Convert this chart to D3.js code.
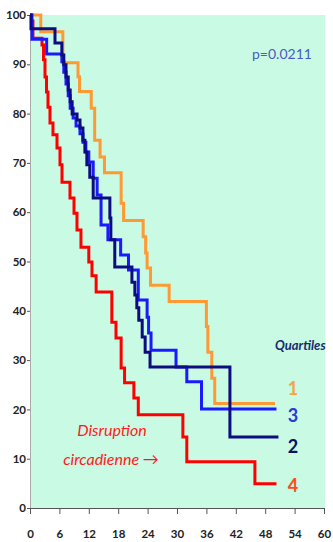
<!DOCTYPE html>
<html>
<head>
<meta charset="utf-8">
<script src="https://cdnjs.cloudflare.com/ajax/libs/d3/7.8.5/d3.min.js"></script>
<style>
  body { margin: 0; background: #fff; }
  svg { display: block; }
</style>
</head>
<body>
<div id="chart"></div>
<script>
// months at each drop, survival (%) after the drop
var q1Times = [2.2, 6.7, 9.8, 10.1, 12.5, 13.2, 14.3, 15.2, 18.6, 19.1, 23.1, 23.6, 23.9, 24.6, 28.4, 36.0, 36.3, 37.1, 37.7];
var q1Surv  = [96.6, 90.3, 87.5, 84.5, 81.1, 74.6, 71.2, 68.0, 61.8, 58.3, 55.0, 51.7, 48.7, 45.2, 41.9, 36.8, 31.6, 26.3, 21.2];
var q1End = 50;

var q2Times = [0.2, 5.1, 6.5, 6.9, 7.35, 7.8, 8.2, 8.6, 9.6, 10.2, 10.8, 11.2, 11.6, 12.2, 12.9, 16.3, 16.5, 17.3, 20.8, 21.4, 21.8, 22.2, 22.9, 23.5, 24.5, 40.8];
var q2Surv  = [97.2, 94.3, 91.9, 89.9, 87.4, 84.8, 82.4, 79.9, 78.7, 77.1, 74.6, 72.2, 69.6, 67.1, 62.9, 58.8, 54.4, 48.9, 45.8, 43.2, 40.6, 38.1, 34.7, 31.6, 28.6, 14.4];
var q2End = 50.7;

var q3Times = [0.4, 3.4, 6.5, 6.9, 7.35, 7.8, 8.2, 8.8, 9.4, 10.2, 10.8, 11.4, 12.0, 12.9, 13.7, 14.5, 15.9, 18.5, 20.1, 22.1, 23.9, 24.2, 24.7, 29.8, 32.0, 35.0];
var q3Surv  = [95.1, 92.1, 90.5, 88.4, 86.0, 83.6, 81.1, 79.1, 77.5, 75.9, 74.2, 72.2, 70.2, 66.9, 63.5, 57.4, 54.4, 51.3, 48.3, 42.2, 38.7, 35.5, 32.0, 28.6, 25.6, 20.1];
var q3End = 50.3;

var q4Times = [0.3, 0.6, 2.45, 2.76, 3.06, 3.37, 3.67, 4.08, 4.69, 5.51, 6.12, 6.53, 8.16, 8.98, 9.59, 10.4, 12.0, 12.65, 13.5, 16.7, 17.55, 18.6, 19.3, 21.2, 22.1, 31.2, 32.0, 45.9];
var q4Surv  = [98.8, 95.3, 93.9, 90.9, 87.4, 84.4, 81.3, 78.1, 75.7, 73.0, 69.6, 66.1, 62.9, 59.8, 56.4, 52.9, 49.9, 47.1, 43.8, 37.7, 34.5, 28.4, 25.4, 22.3, 18.9, 14.4, 9.4, 4.9];
var q4End = 50.3;

var xTicks = [0, 6, 12, 18, 24, 30, 36, 42, 48, 54, 60];
var yTicks = [0, 10, 20, 30, 40, 50, 60, 70, 80, 90, 100];

var w = 333, h = 542;
var svg = d3.select("#chart").append("svg")
    .attr("width", w)
    .attr("height", h);

var x = d3.scaleLinear().domain([0, 60]).range([30, 324]);
var y = d3.scaleLinear().domain([0, 100]).range([508, 15]);

// plot background
svg.append("rect")
    .attr("x", x(0))
    .attr("y", y(100))
    .attr("width", 325 - x(0))
    .attr("height", y(0) - y(100))
    .attr("fill", "#c8fae4");

// axes
var yAxis = svg.append("g")
    .attr("transform", "translate(" + x(0) + ",0)")
    .call(d3.axisLeft(y).tickValues(yTicks).tickSize(3).tickPadding(1));
var xAxis = svg.append("g")
    .attr("transform", "translate(0," + y(0) + ")")
    .call(d3.axisBottom(x).tickValues(xTicks).tickSize(6).tickPadding(16));

yAxis.select(".domain").attr("stroke", "#aaa");
xAxis.select(".domain").attr("stroke", "#555");
svg.selectAll(".tick line").attr("stroke", "#555");
svg.selectAll(".tick text")
    .attr("font-family", "Lato, sans-serif")
    .attr("font-weight", "bold")
    .attr("font-size", "11.5px")
    .attr("fill", "#222");

var line = d3.line()
    .x(function(d) { return x(d[0]); })
    .y(function(d) { return y(d[1]); })
    .curve(d3.curveStepAfter);

function pts(times, surv, end) {
  var p = [[0, 100]];
  times.forEach(function(t, i) { p.push([t, surv[i]]); });
  p.push([end, surv[surv.length - 1]]);
  return p;
}

var series = [
  { p: pts(q4Times, q4Surv, q4End), c: "#ff0000" },
  { p: pts(q1Times, q1Surv, q1End), c: "#ff9933" },
  { p: pts(q3Times, q3Surv, q3End), c: "#1a1aff" },
  { p: pts(q2Times, q2Surv, q2End), c: "#0d0d80" }
];

svg.selectAll("path.km")
    .data(series)
    .enter()
    .append("path")
      .attr("class", "km")
      .attr("d", function(d) { return line(d.p); })
      .attr("fill", "none")
      .attr("stroke", function(d) { return d.c; })
      .attr("stroke-width", 3);

// texts
svg.append("text")
    .attr("x", 252).attr("y", 59)
    .attr("font-family", "Lato, sans-serif")
    .attr("font-size", "14px")
    .attr("fill", "#4a5cc0")
    .text("p=0.0211");

svg.append("text")
    .attr("x", 275).attr("y", 350)
    .attr("font-family", "Lato, sans-serif")
    .attr("font-size", "13px")
    .attr("font-weight", "bold")
    .attr("font-style", "italic")
    .attr("fill", "#1a2a6e")
    .text("Quartiles");

var legend = [
  { t: "1", y: 395, c: "#f7a340" },
  { t: "3", y: 422, c: "#2a3ad8" },
  { t: "2", y: 453, c: "#101060" },
  { t: "4", y: 492, c: "#ff4a1a" }
];
svg.selectAll("text.lg")
    .data(legend)
    .enter()
    .append("text")
      .attr("class", "lg")
      .attr("x", 293).attr("y", function(d) { return d.y; })
      .attr("text-anchor", "middle")
      .attr("font-family", "Lato, sans-serif")
      .attr("font-size", "18px")
      .attr("font-weight", "bold")
      .attr("fill", function(d) { return d.c; })
      .text(function(d) { return d.t; });

svg.append("text")
    .attr("x", 112).attr("y", 436)
    .attr("text-anchor", "middle")
    .attr("font-family", "Lato, sans-serif")
    .attr("font-size", "16px")
    .attr("font-style", "italic")
    .attr("fill", "#ff1a1a")
    .text("Disruption");
svg.append("text")
    .attr("x", 111).attr("y", 465)
    .attr("text-anchor", "middle")
    .attr("font-family", "Lato, sans-serif")
    .attr("font-size", "16px")
    .attr("font-style", "italic")
    .attr("fill", "#ff1a1a")
    .text("circadienne \u2192");
</script>
</body>
</html>
